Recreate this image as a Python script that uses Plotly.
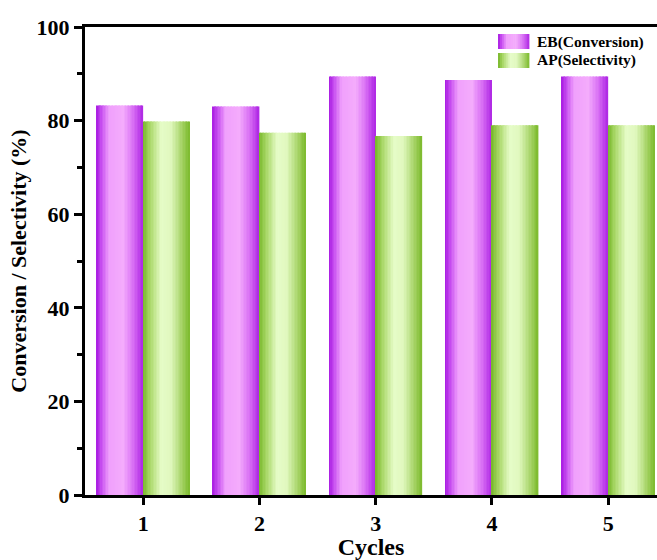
import plotly.graph_objects as go

cycles = [1, 2, 3, 4, 5]
eb_conversion = [83.2, 83.0, 89.4, 88.7, 89.4]
ap_selectivity = [79.8, 77.4, 76.7, 79.0, 79.0]
series_names = ["EB(Conversion)", "AP(Selectivity)"]
y_ticks = [0, 20, 40, 60, 80, 100]

purple_stops = [(0.0, (168, 26, 226)), (0.12, (200, 80, 240)), (0.28, (240, 160, 252)),
                (0.58, (244, 172, 252)), (0.8, (216, 110, 244)), (1.0, (174, 38, 228))]
green_stops = [(0.0, (118, 182, 40)), (0.15, (166, 214, 100)), (0.4, (230, 252, 200)),
               (0.6, (224, 248, 190)), (0.85, (164, 210, 100)), (1.0, (124, 186, 44))]


def interp(stops, t):
    for (t0, c0), (t1, c1) in zip(stops[:-1], stops[1:]):
        if t0 <= t <= t1:
            f = (t - t0) / (t1 - t0) if t1 > t0 else 0
            c = [round(a + (b - a) * f) for a, b in zip(c0, c1)]
            return "rgb(%d,%d,%d)" % tuple(c)
    return "rgb(%d,%d,%d)" % stops[-1][1]


N = 32
BW = 0.4
fig = go.Figure()

for vals, stops, start in [(eb_conversion, purple_stops, -BW), (ap_selectivity, green_stops, 0.0)]:
    sw = BW / N
    for i in range(N):
        t = (i + 0.5) / N
        fig.add_trace(go.Bar(
            x=cycles, y=vals,
            width=[sw * 1.25 if i < N - 1 else sw] * len(cycles),
            offset=start + i * sw,
            marker=dict(color=interp(stops, t), line=dict(width=0)),
            showlegend=False, hoverinfo="skip",
        ))

# custom gradient legend (layout decoration, positioned in paper coordinates)
L, T, PW, PH = 85, 27, 572, 468


def px2paper(px, py):
    return (px - L) / PW, ((T + PH) - py) / PH


shapes = []
annotations = []
for row, (name, stops) in enumerate(zip(series_names, [purple_stops, green_stops])):
    y0p = 34 + row * 19
    x0p, x1p = 498, 529
    M = 16
    for i in range(M):
        t = (i + 0.5) / M
        xa, ya = px2paper(x0p + (x1p - x0p) * i / M, y0p + 15)
        xb, yb = px2paper(x0p + (x1p - x0p) * (i + 1) / M + 0.4, y0p)
        shapes.append(dict(type="rect", xref="paper", yref="paper", x0=xa, x1=xb, y0=ya, y1=yb,
                           fillcolor=interp(stops, t), line=dict(width=0), layer="above"))
    tx, ty = px2paper(535, y0p + 7.5)
    annotations.append(dict(x=tx, y=ty, xref="paper", yref="paper", text="<b>%s</b>" % name,
                            showarrow=False, xanchor="left", yanchor="middle",
                            font=dict(family="Liberation Serif", size=15.5, color="black")))

fig.update_layout(
    width=657, height=560,
    margin=dict(l=85, r=0, t=27, b=65),
    paper_bgcolor="white", plot_bgcolor="white",
    barmode="overlay",
    showlegend=False,
    shapes=shapes,
    annotations=annotations,
    font=dict(family="Liberation Serif", color="black"),
    xaxis=dict(
        range=[0.5, 5.42], tickvals=cycles, ticktext=["<b>%d</b>" % c for c in cycles],
        ticks="outside", ticklen=7, tickwidth=3, tickcolor="black",
        showline=True, linewidth=3, linecolor="black", mirror=True,
        showgrid=False, zeroline=False,
        tickfont=dict(family="Liberation Serif", size=22, color="black"),
        title=dict(text="<b>Cycles</b>", font=dict(family="Liberation Serif", size=24, color="black"), standoff=2),
    ),
    yaxis=dict(
        range=[0, 100], tickvals=y_ticks, ticktext=["<b>%d</b>" % v for v in y_ticks],
        ticks="outside", ticklen=8, tickwidth=3, tickcolor="black",
        minor=dict(dtick=10, tick0=0, ticks="outside", ticklen=5, tickwidth=3, tickcolor="black"),
        showline=True, linewidth=3, linecolor="black",
        showgrid=False, zeroline=False,
        tickfont=dict(family="Liberation Serif", size=22, color="black"),
        title=dict(text="<b>Conversion / Selectivity (%)</b>", font=dict(family="Liberation Serif", size=22, color="black"), standoff=4),
    ),
)

fig.write_html("out.html")
